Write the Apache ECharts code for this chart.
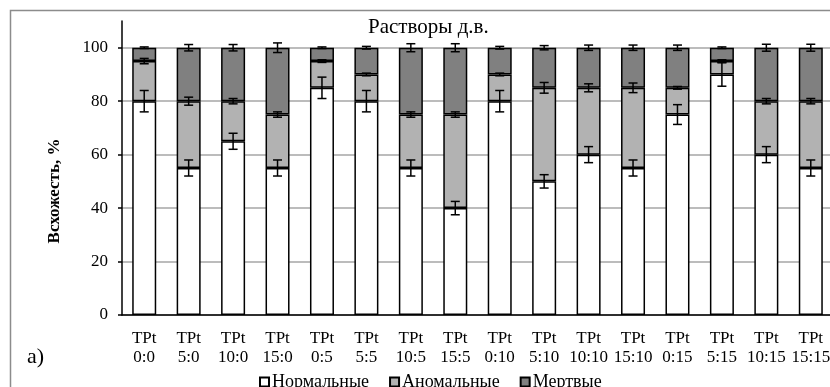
<!DOCTYPE html>
<html>
<head>
<meta charset="utf-8">
<script src="https://cdn.jsdelivr.net/npm/echarts@6/dist/echarts.min.js"></script>
<style>
  html, body { margin: 0; padding: 0; background: #fff; }
  #chart { width: 830px; height: 387px; }
</style>
</head>
<body>
<div id="chart"></div>
<script>
// категории (растворы)
const categories = ['TPt\n0:0', 'TPt\n5:0', 'TPt\n10:0', 'TPt\n15:0', 'TPt\n0:5', 'TPt\n5:5', 'TPt\n10:5', 'TPt\n15:5',
  'TPt\n0:10', 'TPt\n5:10', 'TPt\n10:10', 'TPt\n15:10', 'TPt\n0:15', 'TPt\n5:15', 'TPt\n10:15', 'TPt\n15:15'];
const normal = [80, 55, 65, 55, 85, 80, 55, 40, 80, 50, 60, 55, 75, 90, 60, 55];
const anomal = [15, 25, 15, 20, 10, 10, 20, 35, 10, 35, 25, 30, 10, 5, 20, 25];
const dead = [5, 20, 20, 25, 5, 10, 25, 25, 10, 15, 15, 15, 15, 5, 20, 20];
// погрешности (±)
const errNormal = [4, 3, 3, 3, 4, 4, 3, 2.5, 4, 2.5, 3, 3, 3.7, 4.4, 3, 3];
const errAnomal = [1, 1.5, 1, 1, 0.5, 0.5, 1, 1, 0.5, 2, 1.5, 1.8, 0.5, 0.5, 1, 1];
const errDead = [0.3, 1.2, 1.2, 1.8, 0.3, 0.5, 1.5, 1.5, 0.5, 0.8, 1, 1, 1, 0.3, 1.3, 1.3];
const yTicks = [0, 20, 40, 60, 80, 100];

const serif = 'Liberation Serif';

// границы погрешности: [индекс, низ, верх]
function errData(level, err) {
  return level.map((v, i) => [i, v - err[i], v + err[i]]);
}
const lvlNormal = normal;
const lvlAnomal = normal.map((v, i) => v + anomal[i]);
const lvlDead = lvlAnomal.map((v, i) => v + dead[i]);

function renderErr(params, api) {
  const x = api.value(0);
  const lo = api.coord([x, api.value(1)]);
  const hi = api.coord([x, api.value(2)]);
  const hw = 4.5;
  const st = { stroke: '#000', lineWidth: 1.5 };
  return {
    type: 'group',
    children: [
      { type: 'line', shape: { x1: lo[0], y1: lo[1], x2: hi[0], y2: hi[1] }, style: st },
      { type: 'line', shape: { x1: hi[0] - hw, y1: hi[1], x2: hi[0] + hw, y2: hi[1] }, style: st },
      { type: 'line', shape: { x1: lo[0] - hw, y1: lo[1], x2: lo[0] + hw, y2: lo[1] }, style: st }
    ]
  };
}

function barSeries(name, data, color) {
  return {
    name: name,
    type: 'bar',
    stack: 'all',
    data: data,
    barWidth: 24,
    itemStyle: { color: color, borderColor: '#000', borderWidth: 1.5 },
    emphasis: { disabled: true }
  };
}
function errSeries(data) {
  return {
    type: 'custom',
    renderItem: renderErr,
    data: data,
    z: 10,
    silent: true
  };
}

const chart = echarts.init(document.getElementById('chart'));
chart.setOption({
  animation: false,
  title: {
    text: 'Растворы д.в.',
    left: 363, top: 12,
    textStyle: { fontFamily: serif, fontSize: 21, fontWeight: 'normal', color: '#000' }
  },
  legend: {
    data: ['Нормальные', 'Аномальные', 'Мертвые'],
    left: 259, top: 373,
    icon: 'rect',
    itemWidth: 9, itemHeight: 9, itemGap: 20,
    textStyle: { fontFamily: serif, fontSize: 18, color: '#000', padding: [0, 0, 0, -2] },
    padding: 0
  },
  grid: { left: 122, right: -3, top: 21, bottom: 72, outerBoundsMode: 'none' },
  xAxis: {
    type: 'category',
    data: categories,
    axisTick: { show: false },
    axisLine: { lineStyle: { color: '#000', width: 1.5 } },
    axisLabel: { fontFamily: serif, fontSize: 17, color: '#000', lineHeight: 19, margin: 14, interval: 0 }
  },
  yAxis: {
    type: 'value',
    min: 0, max: 110, interval: 10,
    axisLine: { show: true, lineStyle: { color: '#000', width: 1.5 } },
    axisTick: { show: true, length: 4, customValues: yTicks, lineStyle: { color: '#000', width: 1.5 } },
    axisLabel: { customValues: yTicks, fontFamily: serif, fontSize: 17, color: '#000', margin: 14 },
    splitLine: { show: true, lineStyle: { color: '#a6a6a6', width: 1.5 } }
  },
  graphic: [
    { type: 'rect', shape: { x: 10.5, y: 10.5, width: 840, height: 400 }, style: { fill: 'none', stroke: '#8c8c8c', lineWidth: 1.5 }, silent: true },
    { type: 'text', x: 55, y: 191, rotation: Math.PI / 2,
      style: { text: 'Всхожесть, %', fontFamily: serif, fontSize: 17, fontWeight: 'bold', fill: '#000', align: 'center', verticalAlign: 'middle' } },
    { type: 'text', x: 27, y: 357,
      style: { text: 'а)', fontFamily: serif, fontSize: 22, fill: '#000', verticalAlign: 'middle' } }
  ],
  series: [
    barSeries('Нормальные', normal, '#ffffff'),
    barSeries('Аномальные', anomal, '#b2b2b2'),
    barSeries('Мертвые', dead, '#808080'),
    errSeries(errData(lvlNormal, errNormal)),
    errSeries(errData(lvlAnomal, errAnomal)),
    errSeries(errData(lvlDead, errDead))
  ]
});
</script>
</body>
</html>
